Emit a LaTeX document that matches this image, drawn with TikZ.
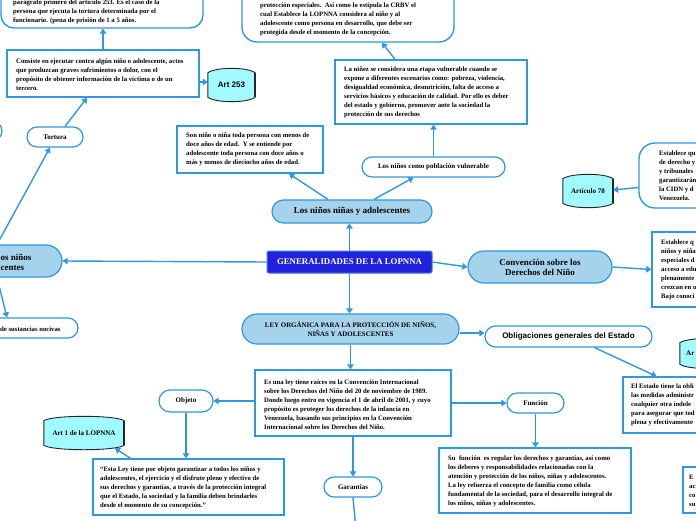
\documentclass[tikz,border=0pt]{standalone}
\usepackage{fontspec}
\setmainfont{Liberation Serif}
\newfontfamily\sansfam{Liberation Sans}
\usetikzlibrary{arrows.meta,calc,shapes.misc,backgrounds}
\definecolor{lnb}{RGB}{48,152,222}
\definecolor{pillfill}{RGB}{166,211,236}
\definecolor{genfill}{RGB}{34,34,222}
\definecolor{genline}{RGB}{70,120,225}
\definecolor{cylfill}{RGB}{160,250,255}
\tikzset{
  bodytxt/.style={font=\fontsize{6.7}{9}\selectfont\bfseries, align=left, inner sep=0pt, anchor=west},
  sqbox/.style={draw=lnb, line width=1.4pt, fill=white, inner sep=0pt},
  rndbox/.style={sqbox, rounded corners=13pt},
  pillw/.style={rounded rectangle, draw=lnb, line width=1.2pt, fill=white, inner sep=0pt, font=\fontsize{7}{8}\selectfont\bfseries},
  pillb/.style={pillw, fill=pillfill},
  cylnode/.style={inner sep=0pt, font=\fontsize{7}{8}\selectfont\bfseries},
  conn/.style={draw=lnb, line width=1.4pt, -{Triangle[width=6.5pt,length=5pt]}},
}
\newcommand{\cylshape}[1]{%
  \filldraw[fill=cylfill, draw=black!85, line width=0.9pt]
   ($(#1.north west)+(0,3)$) .. controls ($(#1.north west)+(8,-3)$) and ($(#1.north east)+(-8,-3)$) .. ($(#1.north east)+(0,3)$)
   -- ($(#1.south east)+(0,-3)$) .. controls ($(#1.south east)+(-8,3)$) and ($(#1.south west)+(8,3)$) .. ($(#1.south west)+(0,-3)$) -- cycle;
  \draw[black!85, line width=1.6pt] ($(#1.north east)+(0,3)$) -- ($(#1.south east)+(0,-3)$);}
\begin{document}
\begin{tikzpicture}[x=1pt,y=-1pt]
\useasboundingbox (0,0) rectangle (696,520);
\clip (0,0) rectangle (696,520);

% top-left box
\node[rndbox, minimum width=202pt, minimum height=60pt] (tl) at (102,-2) {};
\node[bodytxt] (tlT) at (13,11.5) {parágrafo primero del artículo 253. Es el caso de la\\persona que ejecuta la tortura determinada por el\\funcionario. (pena de prisión de 1 a 5 años.};

% consiste
\node[sqbox, minimum width=192pt, minimum height=47pt] (cons) at (103,73.5) {};
\node[bodytxt] (consT) at (16,74.5) {Consiste en ejecutar contra algún niño o adolescente, actos\\que produzcan graves sufrimientos o dolor, con el\\propósito de obtener información de la víctima o de un\\tercero.};

\node[cylnode, minimum width=47pt, minimum height=30pt, font=\sansfam\fontsize{8}{9}\selectfont\bfseries] (art253) at (231.5,85) {Art 253};

\node[pillw, minimum width=56pt, minimum height=20pt] (tortura) at (55,137) {Tortura};
\node[pillw, minimum width=62pt, minimum height=20pt] (offl) at (-29,131) {};

% left node
\node[pillb, minimum width=130pt, minimum height=32pt] (leftn) at (-3,261) {};
\node[font=\fontsize{9}{10}\selectfont\bfseries, align=left, inner sep=0pt, anchor=west] (leftnT) at (0.5,262) {os niños\\centes};

\node[pillw, minimum width=142pt, minimum height=20pt] (sust) at (7,328) {};
\node[font=\fontsize{6.7}{8}\selectfont\bfseries, inner sep=0pt, anchor=west] (sustT) at (0,329) {de sustancias nocivas};

% center
\node[draw=genline, fill=genfill, rounded corners=2pt, line width=1pt, minimum width=165pt, minimum height=22pt, inner sep=0pt, text=white, font=\fontsize{8.8}{10}\selectfont\bfseries] (gen) at (349.5,262) {GENERALIDADES DE LA LOPNNA};

\node[pillb, minimum width=160pt, minimum height=23pt, font=\fontsize{9}{10}\selectfont\bfseries] (losn) at (352,211.5) {Los niños niñas y adolescentes};

\node[sqbox, minimum width=146pt, minimum height=47pt] (sonn) at (250,149.5) {};
\node[bodytxt] (sonnT) at (186,149.5) {Son niño o niña toda persona con menos de\\doce años de edad.\ \ Y se entiende por\\adolescente toda persona con doce años o\\más y menos de dieciocho años de edad.};

\node[pillw, minimum width=143pt, minimum height=20pt] (vuln) at (433.5,167) {Los niños como población vulnerable};

\node[sqbox, minimum width=192pt, minimum height=64pt] (nin) at (431,92) {};
\node[bodytxt] (ninT) at (344,92.5) {La niñez se considera una etapa vulnerable cuando se\\expone a diferentes escenarios como: pobreza, violencia,\\desigualdad económica, desnutrición, falta de acceso a\\servicios básicos y educación de calidad. Por ello es deber\\del estado y gobierno, promover ante la sociedad la\\protección de sus derechos};

\node[rndbox, rounded corners=15pt, minimum width=212pt, minimum height=70pt] (topc) at (348,7) {};
\node[bodytxt] (topcT) at (260,19) {protección especiales.\ \ Así como lo estipula la CRBV el\\cual Establece la LOPNNA considera al niño y al\\adolescente como persona en desarrollo, que debe ser\\protegida desde el momento de la concepción.};

% right side
\node[rndbox, rounded corners=16pt, minimum width=110pt, minimum height=65pt] (rtop) at (694,175.5) {};
\node[bodytxt] (rtopT) at (659,176) {Establece qu\\de derecho y\\y tribunales\\garantizarán\\la CIDN y d\\Venezuela.};

\node[cylnode, minimum width=50pt, minimum height=30pt] (art78) at (588,191) {Artículo 78};

\node[pillb, minimum width=144pt, minimum height=32pt, align=center, font=\fontsize{9}{10}\selectfont\bfseries] (conv) at (540,267) {Convención sobre los\\Derechos del Niño};

\node[sqbox, minimum width=100pt, minimum height=75pt] (rb2) at (702,269.5) {};
\node[bodytxt] (rb2T) at (661,270) {Establece q\\niños y niña\\especiales d\\acceso a edu\\plenamente\\crezcan en u\\Bajo conoci};

\node[pillb, minimum width=217pt, minimum height=30pt, align=center, font=\fontsize{6.9}{9}\selectfont\bfseries] (ley) at (350.5,329) {LEY ORGÁNICA PARA LA PROTECCIÓN DE NIÑOS,\\NIÑAS Y ADOLESCENTES};

\node[pillw, minimum width=167pt, minimum height=21pt, font=\sansfam\fontsize{8}{9}\selectfont\bfseries] (obl) at (568.5,336.5) {Obligaciones generales del Estado};

\node[cylnode, minimum width=60pt, minimum height=27pt] (artr) at (710,353.5) {};
\node[font=\fontsize{7}{8}\selectfont\bfseries, inner sep=0pt, anchor=west] (artrT) at (686,353) {Ar};

\node[sqbox, minimum width=117pt, minimum height=56pt] (est) at (681.5,405) {};
\node[bodytxt] (estT) at (631,405) {El Estado tiene la obli\\las medidas administr\\cualquier otra índole\\para asegurar que tod\\plena y efectivamente};

% lower center
\node[sqbox, minimum width=196pt, minimum height=66pt] (esu) at (353,403) {};
\node[bodytxt] (esuT) at (264,404.5) {Es una ley tiene raíces en la Convención Internacional\\sobre los Derechos del Niño del 20 de noviembre de 1989.\\Donde luego entro en vigencia el 1 de abril de 2001, y cuyo\\propósito es proteger los derechos de la infancia en\\Venezuela, basando sus principios en la Convención\\Internacional sobre los Derechos del Niño.};

\node[pillw, minimum width=54pt, minimum height=22pt] (obj) at (186,401) {Objeto};

\node[sqbox, minimum width=191pt, minimum height=56pt] (eley) at (188.5,487) {};
\node[bodytxt] (eleyT) at (100,488) {“Esta Ley tiene por objeto garantizar a todos los niños y\\adolescentes, el ejercicio y el disfrute pleno y efectivo de\\sus derechos y garantías, a través de la protección integral\\que el Estado, la sociedad y la familia deben brindarles\\desde el momento de su concepción.”};

\node[cylnode, minimum width=80pt, minimum height=30pt] (art1) at (84,433) {Art 1 de la LOPNNA};

\node[pillw, minimum width=57pt, minimum height=20pt] (fun) at (535.5,403) {Función};

\node[sqbox, minimum width=192pt, minimum height=65pt] (suf) at (535,480.5) {};
\node[bodytxt] (sufT) at (448,481.5) {Su\ \ función\ \ es regular los derechos y garantías, así como\\los deberes y responsabilidades relacionadas con la\\atención y protección de los niños, niñas y adolescentes.\\La ley refuerza el concepto de familia como célula\\fundamental de la sociedad, para el desarrollo integral de\\los niños, niñas y adolescentes.};

\node[pillw, minimum width=58pt, minimum height=20pt] (gar) at (353,487) {Garantias};
\coordinate (garout) at (357,540);

\node[sqbox, minimum width=60pt, minimum height=46pt] (br) at (713,490) {};
\node[bodytxt] (brT) at (689,490.5) {E\\ac\\co\\su};

% connectors
\draw[conn] (cons.north) -- (cons.north |- tl.south);
\draw[conn] ($(cons.east)+(0,8.5)$) -- ($(art253.west)+(0,-3)$);
\draw[conn] ($(tortura.north)+(10,0)$) -- ($(cons.south)+(-16,0)$);
\draw[conn] (leftn.north) -- ($(tortura.south)+(-5,0)$);
\draw[conn] (leftn.south) -- (sust.north);
\draw[conn] (gen.west) -- (leftn.east);
\draw[conn] (gen.north) -- (gen.north |- losn.south);
\draw[conn] ($(losn.north)+(-24,0)$) -- ($(sonn.south)+(39,0)$);
\draw[conn] ($(losn.north)+(22,0)$) -- ($(vuln.south)+(-20,0)$);
\draw[conn] (vuln.north) -- (vuln.north |- nin.south);
\draw[conn] ($(nin.north)+(-36,0)$) -- ($(topc.south)+(34,0)$);
\draw[conn] ($(rtop.west)+(0,12)$) -- ($(art78.east)+(0,-1)$);
\draw[conn] (gen.east) -- (conv.west);
\draw[conn] (conv.east) -- (rb2.west);
\draw[conn] (gen.south) -- (gen.south |- ley.north);
\draw[conn] ($(ley.east)+(0,4)$) -- ($(obl.west)+(0,-3.5)$);
\draw[conn] ($(obl.south)+(26,0)$) -- ($(est.north)+(-25,0)$);
\draw[conn] (ley.south) -- (ley.south |- esu.north);
\draw[conn] (esu.west |- obj.east) -- (obj.east);
\draw[conn] (obj.south) -- (obj.south |- eley.north);
\draw[conn] ($(eley.north)+(-58,0)$) -- ($(art1.south)+(31,0)$);
\draw[conn] (esu.east |- fun.west) -- (fun.west);
\draw[conn] (fun.south) -- (fun.south |- suf.north);
\draw[conn] (esu.south) -- (gar.north);
\draw[conn] (gar.south) -- (garout);

\begin{scope}[on background layer]
\fill[white] (0,0) rectangle (696,520);
\cylshape{art253}
\cylshape{art78}
\cylshape{art1}
\cylshape{artr}
\end{scope}
\end{tikzpicture}
\end{document}
